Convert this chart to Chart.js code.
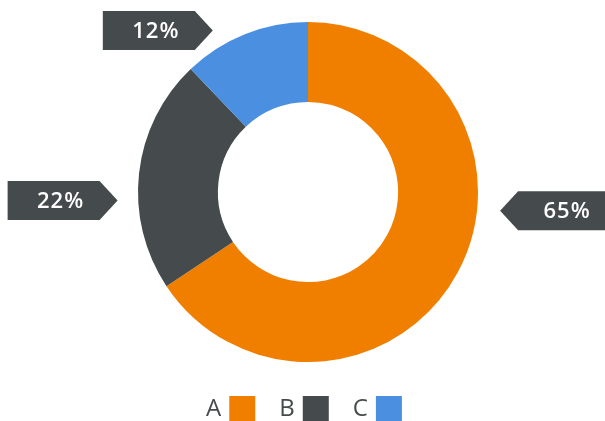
<!DOCTYPE html>
<html lang="en">
<head>
  <meta charset="UTF-8">
  <title>Donut</title>
  <script src="https://cdn.jsdelivr.net/npm/chart.js"></script>
  <style>
    html, body { margin: 0; padding: 0; background: #fff; }
    #wrap { width: 605px; height: 421px; }
  </style>
</head>
<body>
  <div id="wrap">
    <canvas id="donut"></canvas>
  </div>

  <script>
    const labels = ['A', 'B', 'C'];
    const values = [65, 22, 12];
    const colors = ['#F07F00', '#454B4C', '#4A8FE0'];

    // where each tag's arrow tip sits, in units of the outer radius from the centre
    const tagTips = [
      { dx: 1.13, dy: 0.11, side: 'right' },
      { dx: -1.12, dy: 0.05, side: 'left' },
      { dx: -0.56, dy: -0.95, side: 'left' }
    ];

    const tagsPlugin = {
      id: 'tags',
      afterDraw(chart) {
        const ctx = chart.ctx;
        const meta = chart.getDatasetMeta(0);
        const arc = meta.data[0];
        const cx = arc.x, cy = arc.y, r = arc.outerRadius;
        const h = 39, arrow = 18, w = 92;

        ctx.save();
        values.forEach((v, i) => {
          const t = tagTips[i];
          const tx = cx + t.dx * r;
          const ty = cy + t.dy * r;
          ctx.fillStyle = '#454B4C';
          ctx.beginPath();
          let textX;
          if (t.side === 'left') {
            // tag sits left of the ring, arrow points right
            ctx.moveTo(tx, ty);
            ctx.lineTo(tx - arrow, ty - h / 2);
            ctx.lineTo(tx - arrow - w, ty - h / 2);
            ctx.lineTo(tx - arrow - w, ty + h / 2);
            ctx.lineTo(tx - arrow, ty + h / 2);
            textX = tx - arrow - w / 2 + 7;
          } else {
            ctx.moveTo(tx, ty);
            ctx.lineTo(tx + arrow, ty - h / 2);
            ctx.lineTo(tx + arrow + w, ty - h / 2);
            ctx.lineTo(tx + arrow + w, ty + h / 2);
            ctx.lineTo(tx + arrow, ty + h / 2);
            textX = tx + arrow + w / 2 + 3;
          }
          ctx.closePath();
          ctx.fill();

          ctx.fillStyle = '#ffffff';
          ctx.font = '600 22px "Open Sans", sans-serif';
          ctx.letterSpacing = '1px';
          ctx.textAlign = 'center';
          ctx.textBaseline = 'middle';
          ctx.fillText(Math.round(v) + '%', textX, ty + 1);
        });

        // legend: letter then coloured square
        ctx.letterSpacing = '0px';
        ctx.font = '24px "Open Sans", sans-serif';
        ctx.textAlign = 'left';
        ctx.textBaseline = 'middle';
        const box = 26, gapText = 8, gapItem = 24, ly = 409;
        const widths = labels.map(l => ctx.measureText(l).width + gapText + box);
        const full = widths.reduce((a, b) => a + b, 0) + gapItem * (labels.length - 1);
        let x = 304 - full / 2;
        labels.forEach((l, i) => {
          ctx.fillStyle = '#454B4C';
          ctx.fillText(l, x, ly);
          const bx = x + ctx.measureText(l).width + gapText;
          ctx.fillStyle = colors[i];
          ctx.fillRect(bx, ly - 13, box, box);
          x += widths[i] + gapItem;
        });
        ctx.restore();
      }
    };

    new Chart(document.getElementById('donut'), {
      type: 'doughnut',
      data: {
        labels: labels,
        datasets: [{
          data: values,
          backgroundColor: colors,
          borderWidth: 0
        }]
      },
      options: {
        responsive: true,
        maintainAspectRatio: false,
        animation: false,
        cutout: '53%',
        layout: { padding: { top: 22, bottom: 59, left: 11, right: 0 } },
        plugins: {
          legend: { display: false },
          tooltip: { enabled: false }
        }
      },
      plugins: [tagsPlugin]
    });
  </script>
</body>
</html>
